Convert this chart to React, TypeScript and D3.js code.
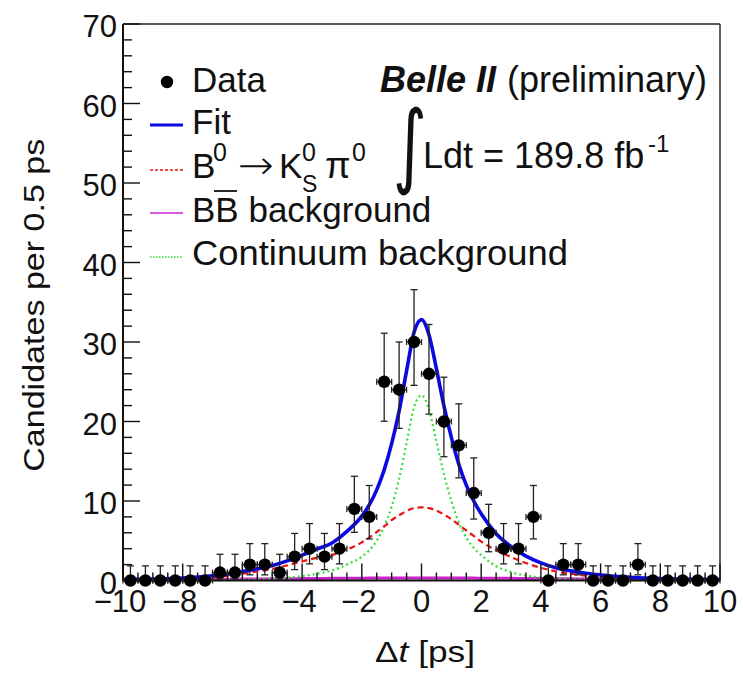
import React from 'react';
import * as d3 from 'd3';

// ---------- data ----------
const binCenters = [-9.75,-9.25,-8.75,-8.25,-7.75,-7.25,-6.75,-6.25,-5.75,-5.25,-4.75,-4.25,-3.75,-3.25,-2.75,-2.25,-1.75,-1.25,-0.75,-0.25,0.25,0.75,1.25,1.75,2.25,2.75,3.25,3.75,4.25,4.75,5.25,5.75,6.25,6.75,7.25,7.75,8.25,8.75,9.25,9.75];
const counts = [0,0,0,0,0,0,1,1,2,2,1,3,4,3,4,9,8,25,24,30,26,20,17,11,6,4,4,8,0,2,2,0,0,0,2,0,0,0,0,0];
const errLow = [0,0,0,0,0,0,0.83,0.83,1.29,1.29,0.83,1.63,1.91,1.63,1.91,2.94,2.77,4.97,4.86,5.45,5.07,4.43,4.09,3.27,2.38,1.91,1.91,2.77,0,1.29,1.29,0,0,0,1.29,0,0,0,0,0];
const errHigh = [1.84,1.84,1.84,1.84,1.84,1.84,2.30,2.30,2.64,2.64,2.30,2.92,3.16,2.92,3.16,4.11,3.95,6.10,6.00,6.58,6.20,5.57,5.22,4.42,3.58,3.16,3.16,3.95,1.84,2.64,2.64,1.84,1.84,1.84,2.64,1.84,1.84,1.84,1.84,1.84];
const binHalfWidth = 0.25;

const curveDt = [-10,-9,-8,-7.5,-7,-6.5,-6,-5.5,-5,-4.5,-4,-3.5,-3,-2.5,-2,-1.75,-1.5,-1.25,-1,-0.75,-0.5,-0.25,0,0.25,0.5,0.75,1,1.25,1.5,1.75,2,2.5,3,3.5,4,4.5,5,5.5,6,7,8,9,10];
const fitTotal = [0.12,0.18,0.30,0.42,0.60,0.83,1.13,1.47,1.88,2.47,3.19,3.95,4.72,6.18,8.09,9.5,11.4,13.91,17.21,21.31,26.37,31.22,32.82,30.92,26.62,22.01,18.01,14.61,12.0,10.0,8.39,5.88,4.27,3.07,2.22,1.61,1.21,0.91,0.70,0.41,0.24,0.16,0.12];
const signalPdf = [0.03,0.06,0.15,0.25,0.4,0.6,0.85,1.15,1.45,1.9,2.4,2.85,3.2,3.9,4.8,5.4,6.1,6.8,7.6,8.2,8.75,9.1,9.2,9.1,8.8,8.3,7.7,7.0,6.3,5.6,4.9,3.8,2.95,2.2,1.6,1.15,0.85,0.62,0.45,0.22,0.1,0.05,0.03];
const bbbarPdf = [0.08,0.1,0.12,0.13,0.15,0.16,0.18,0.19,0.21,0.22,0.24,0.25,0.27,0.28,0.29,0.3,0.3,0.31,0.31,0.31,0.32,0.32,0.32,0.32,0.32,0.31,0.31,0.31,0.3,0.3,0.29,0.28,0.27,0.25,0.24,0.22,0.21,0.19,0.18,0.15,0.12,0.1,0.08];
const continuumPdf = [0.01,0.02,0.03,0.04,0.05,0.07,0.1,0.13,0.22,0.35,0.55,0.85,1.25,2.0,3.0,3.8,5.0,6.8,9.3,12.8,17.3,21.8,23.3,21.5,17.5,13.4,10.0,7.3,5.4,4.1,3.2,1.8,1.05,0.62,0.38,0.24,0.15,0.1,0.07,0.04,0.02,0.01,0.01];

const xTickValues = [-10,-8,-6,-4,-2,0,2,4,6,8,10];
const yTickValues = [0,10,20,30,40,50,60,70];
const xDomain = [-10, 10];
const yDomain = [0, 70];

// ---------- layout ----------
const W = 743, H = 678;
const plot = { left: 123, right: 720, top: 24, bottom: 580.5 };
const FONT = "'Liberation Sans', Arial, Helvetica, sans-serif";

const COL_FIT = '#0a0ae0';
const COL_SIG = '#ee1111';
const COL_BB = '#cc22cc';
const COL_CONT = '#33dd33';

export default function App() {
  const x = d3.scaleLinear().domain(xDomain).range([plot.left, plot.right]);
  const y = d3.scaleLinear().domain(yDomain).range([plot.bottom, plot.top]);

  const mkLine = (vals: number[]) =>
    d3.line<number>()
      .x((_, i) => x(curveDt[i]))
      .y((d) => y(d))
      .curve(d3.curveMonotoneX)(vals) || '';

  const xMinor = d3.range(-10, 10.001, 0.5);
  const yMinor = d3.range(0, 70.001, 2);
  const fmt = d3.format('d');

  const legX1 = 150, legX2 = 183, legText = 192;

  return (
    <svg width={W} height={H} style={{ position: 'absolute', left: 0, top: 0, background: '#fff' }}
      fontFamily={FONT}>
      <rect x={0} y={0} width={W} height={H} fill="#fff" />

      {/* curves */}
      <path d={mkLine(bbbarPdf)} fill="none" stroke={COL_BB} strokeWidth={3} />
      <path d={mkLine(continuumPdf)} fill="none" stroke={COL_CONT} strokeWidth={2.2} strokeDasharray="2,3" />
      <path d={mkLine(signalPdf)} fill="none" stroke={COL_SIG} strokeWidth={2.2} strokeDasharray="6,4" />
      <path d={mkLine(fitTotal)} fill="none" stroke={COL_FIT} strokeWidth={3.6} />

      {/* frame */}
      <line x1={plot.left} x2={plot.right} y1={plot.top} y2={plot.top} stroke="#222" strokeWidth={1.6} />
      <line x1={plot.right} x2={plot.right} y1={plot.top} y2={plot.bottom} stroke="#222" strokeWidth={1.4} />
      <line x1={plot.left} x2={plot.left} y1={plot.top} y2={plot.bottom} stroke="#111" strokeWidth={2} />
      <line x1={plot.left} x2={plot.right} y1={plot.bottom} y2={plot.bottom} stroke="#111" strokeWidth={2} />

      {/* y ticks */}
      {yMinor.map((v) => {
        const major = yTickValues.includes(Math.round(v));
        return <line key={'ym' + v} x1={plot.left} x2={plot.left + (major ? 17 : 9)} y1={y(v)} y2={y(v)} stroke="#111" strokeWidth={1.4} />;
      })}
      {yTickValues.map((v) => (
        <text key={'yl' + v} x={plot.left - 6} y={y(v) + 13} fontSize={31} textAnchor="end" fill="#111">{fmt(v)}</text>
      ))}

      {/* x ticks */}
      {xMinor.map((v) => {
        const major = xTickValues.includes(v);
        return <line key={'xm' + v} x1={x(v)} x2={x(v)} y1={plot.bottom} y2={plot.bottom - (major ? 17 : 8)} stroke="#111" strokeWidth={1.4} />;
      })}
      {xTickValues.map((v) => (
        <text key={'xl' + v} x={x(v) - (v < 0 ? 3 : 0)} y={612} fontSize={31} textAnchor="middle" fill="#111">{fmt(v)}</text>
      ))}

      {/* axis titles */}
      <text transform={`translate(44,${(plot.top + plot.bottom) / 2 + 3}) rotate(-90)`} fontSize={29} textAnchor="middle"
        textLength={333} lengthAdjust="spacingAndGlyphs" fill="#111">Candidates per 0.5 ps</text>
      <text x={425} y={662} fontSize={30} textAnchor="middle" fill="#111" textLength={100} lengthAdjust="spacingAndGlyphs">
        Δ<tspan fontStyle="italic">t</tspan> [ps]
      </text>

      {/* data points */}
      {binCenters.map((c, i) => {
        const cx = x(c), cy = y(counts[i]);
        const yl = y(counts[i] - errLow[i]), yh = y(counts[i] + errHigh[i]);
        const xl = x(c - binHalfWidth), xh = x(c + binHalfWidth);
        return (
          <g key={'pt' + i}>
            <line x1={cx} x2={cx} y1={yh} y2={yl} stroke="#222" strokeWidth={1.3} />
            <line x1={cx - 3.5} x2={cx + 3.5} y1={yh} y2={yh} stroke="#222" strokeWidth={1.3} />
            {errLow[i] > 0 && <line x1={cx - 3.5} x2={cx + 3.5} y1={yl} y2={yl} stroke="#222" strokeWidth={1.3} />}
            <line x1={xl} x2={xh} y1={cy} y2={cy} stroke="#222" strokeWidth={1.3} />
            <line x1={xl} x2={xl} y1={cy - 3} y2={cy + 3} stroke="#222" strokeWidth={1.3} />
            <line x1={xh} x2={xh} y1={cy - 3} y2={cy + 3} stroke="#222" strokeWidth={1.3} />
            <circle cx={cx} cy={cy} r={6.2} fill="#000" />
          </g>
        );
      })}

      {/* legend */}
      <circle cx={167} cy={82} r={6.2} fill="#000" />
      <text x={legText} y={92} fontSize={35} fill="#111">Data</text>

      <line x1={legX1} x2={legX2} y1={125} y2={125} stroke={COL_FIT} strokeWidth={3} />
      <text x={legText} y={134} fontSize={35} fill="#111">Fit</text>

      <line x1={legX1} x2={legX2} y1={170} y2={170} stroke={COL_SIG} strokeWidth={1.6} strokeDasharray="3,2" />
      <text x={legText} y={178} fontSize={35} fill="#111">B</text>
      <text x={213} y={161} fontSize={25} fill="#111">0</text>
      <text x={238} y={179} fontSize={40} fill="#111" fontFamily="'DejaVu Sans', sans-serif" fontWeight={200}
        textLength={36} lengthAdjust="spacingAndGlyphs">→</text>
      <text x={279} y={178} fontSize={35} fill="#111">K</text>
      <text x={302} y={161} fontSize={25} fill="#111">0</text>
      <text x={302} y={192} fontSize={23} fill="#111">S</text>
      <text x={325} y={178} fontSize={37} fill="#111">π</text>
      <text x={352} y={161} fontSize={25} fill="#111">0</text>

      <line x1={legX1} x2={legX2} y1={213} y2={213} stroke={COL_BB} strokeWidth={1.6} />
      <text x={legText} y={222} fontSize={35} fill="#111">BB background</text>
      <line x1={214} x2={237} y1={191} y2={191} stroke="#111" strokeWidth={1.8} />

      <line x1={legX1} x2={legX2} y1={257} y2={257} stroke={COL_CONT} strokeWidth={1.6} strokeDasharray="1.5,1.5" />
      <text x={legText} y={265} fontSize={35} fill="#111" textLength={376} lengthAdjust="spacingAndGlyphs">Continuum background</text>

      {/* experiment label */}
      <text x={380} y={92} fontSize={36} fill="#111">
        <tspan fontWeight="bold" fontStyle="italic">Belle II</tspan>
      </text>
      <text x={507} y={92} fontSize={36} fill="#111">(preliminary)</text>
      <text x={393} y={176} fontSize={92} fill="#111" fontFamily="'DejaVu Sans', sans-serif"
        textLength={34} lengthAdjust="spacingAndGlyphs">∫</text>
      <text x={423} y={168} fontSize={36} fill="#111">Ldt = 189.8 fb</text>
      <text x={648} y={152} fontSize={24} fill="#111">-1</text>
    </svg>
  );
}
